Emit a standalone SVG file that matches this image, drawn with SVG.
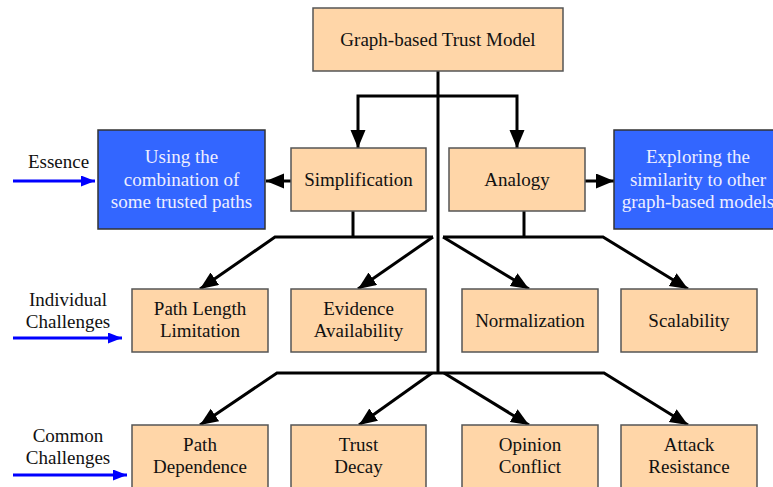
<svg xmlns="http://www.w3.org/2000/svg" width="773" height="487" viewBox="0 0 773 487">
<defs>
<marker id="ah" markerUnits="userSpaceOnUse" markerWidth="20" markerHeight="16" refX="18" refY="7.5" orient="auto"><path d="M0,0 L18,7.5 L0,15 z" fill="#000"/></marker>
<marker id="bh" markerUnits="userSpaceOnUse" markerWidth="16" markerHeight="12" refX="14" refY="5.5" orient="auto"><path d="M0,0 L14,5.5 L0,11 z" fill="#0000FF"/></marker>
<style>
.n{fill:#FFD6A8;stroke:#555;stroke-width:1.5}
.b{fill:#3366FF;stroke:#333;stroke-width:1.5}
text{font-family:"Liberation Serif","Times New Roman",serif;font-size:19px;text-anchor:middle;fill:#111}
.w{fill:#EEEEFF}
.c{fill:none;stroke:#000;stroke-width:3;stroke-linejoin:miter}
.bl{fill:none;stroke:#0000FF;stroke-width:3}
</style>
</defs>
<rect width="773" height="487" fill="#fff"/>
<g id="connectors">
<path class="c" d="M438,71 V373"/>
<path class="c" d="M438,96 H358 V148" marker-end="url(#ah)"/>
<path class="c" d="M438,96 H517 V148" marker-end="url(#ah)"/>
<path class="c" d="M291,181 H266" marker-end="url(#ah)"/>
<path class="c" d="M585,181 H614" marker-end="url(#ah)"/>
<path class="c" d="M353,211 V237"/>
<path class="c" d="M433,237 H275 L200,289" marker-end="url(#ah)"/>
<path class="c" d="M433,237 L358,289" marker-end="url(#ah)"/>
<path class="c" d="M524,211 V237"/>
<path class="c" d="M443,237 H603 L688,289" marker-end="url(#ah)"/>
<path class="c" d="M443,237 L529,289" marker-end="url(#ah)"/>
<path class="c" d="M438,373 H277 L200,425" marker-end="url(#ah)"/>
<path class="c" d="M432,373 L359,425" marker-end="url(#ah)"/>
<path class="c" d="M438,373 H604 L688,425" marker-end="url(#ah)"/>
<path class="c" d="M444,373 L529,425" marker-end="url(#ah)"/>
<path class="bl" d="M13,181 H95" marker-end="url(#bh)"/>
<path class="bl" d="M13,338 H122" marker-end="url(#bh)"/>
<path class="bl" d="M13,475 H127" marker-end="url(#bh)"/>
</g>
<g id="root"><rect class="n" x="313" y="8" width="250" height="63"/><text x="438" y="46">Graph-based Trust Model</text></g>
<g id="simplification"><rect class="n" x="291" y="148" width="135" height="63"/><text x="358.5" y="186">Simplification</text></g>
<g id="analogy"><rect class="n" x="449" y="148" width="136" height="63"/><text x="517" y="186">Analogy</text></g>
<g id="essence-left"><rect class="b" x="98" y="130" width="167" height="99"/><text class="w" x="181.5" y="163">Using the</text><text class="w" x="181.5" y="186">combination of</text><text class="w" x="181.5" y="208">some trusted paths</text></g>
<g id="essence-right"><rect class="b" x="614" y="130" width="168" height="99"/><text class="w" x="698" y="163">Exploring the</text><text class="w" x="698" y="186">similarity to other</text><text class="w" x="698" y="208">graph-based models</text></g>
<g id="path-length"><rect class="n" x="132" y="289" width="136" height="63"/><text x="200" y="315">Path Length</text><text x="200" y="337">Limitation</text></g>
<g id="evidence"><rect class="n" x="291" y="289" width="135" height="63"/><text x="358.5" y="315">Evidence</text><text x="358.5" y="337">Availability</text></g>
<g id="normalization"><rect class="n" x="462" y="289" width="136" height="63"/><text x="530" y="327">Normalization</text></g>
<g id="scalability"><rect class="n" x="621" y="289" width="136" height="63"/><text x="689" y="327">Scalability</text></g>
<g id="path-dependence"><rect class="n" x="132" y="425" width="136" height="63"/><text x="200" y="451">Path</text><text x="200" y="473">Dependence</text></g>
<g id="trust-decay"><rect class="n" x="291" y="425" width="135" height="63"/><text x="358.5" y="451">Trust</text><text x="358.5" y="473">Decay</text></g>
<g id="opinion-conflict"><rect class="n" x="462" y="425" width="136" height="63"/><text x="530" y="451">Opinion</text><text x="530" y="473">Conflict</text></g>
<g id="attack-resistance"><rect class="n" x="621" y="425" width="136" height="63"/><text x="689" y="451">Attack</text><text x="689" y="473">Resistance</text></g>
<g id="labels">
<text x="58.5" y="168">Essence</text>
<text x="68" y="306">Individual</text>
<text x="68" y="328">Challenges</text>
<text x="68" y="442">Common</text>
<text x="68" y="464">Challenges</text>
</g>
</svg>
